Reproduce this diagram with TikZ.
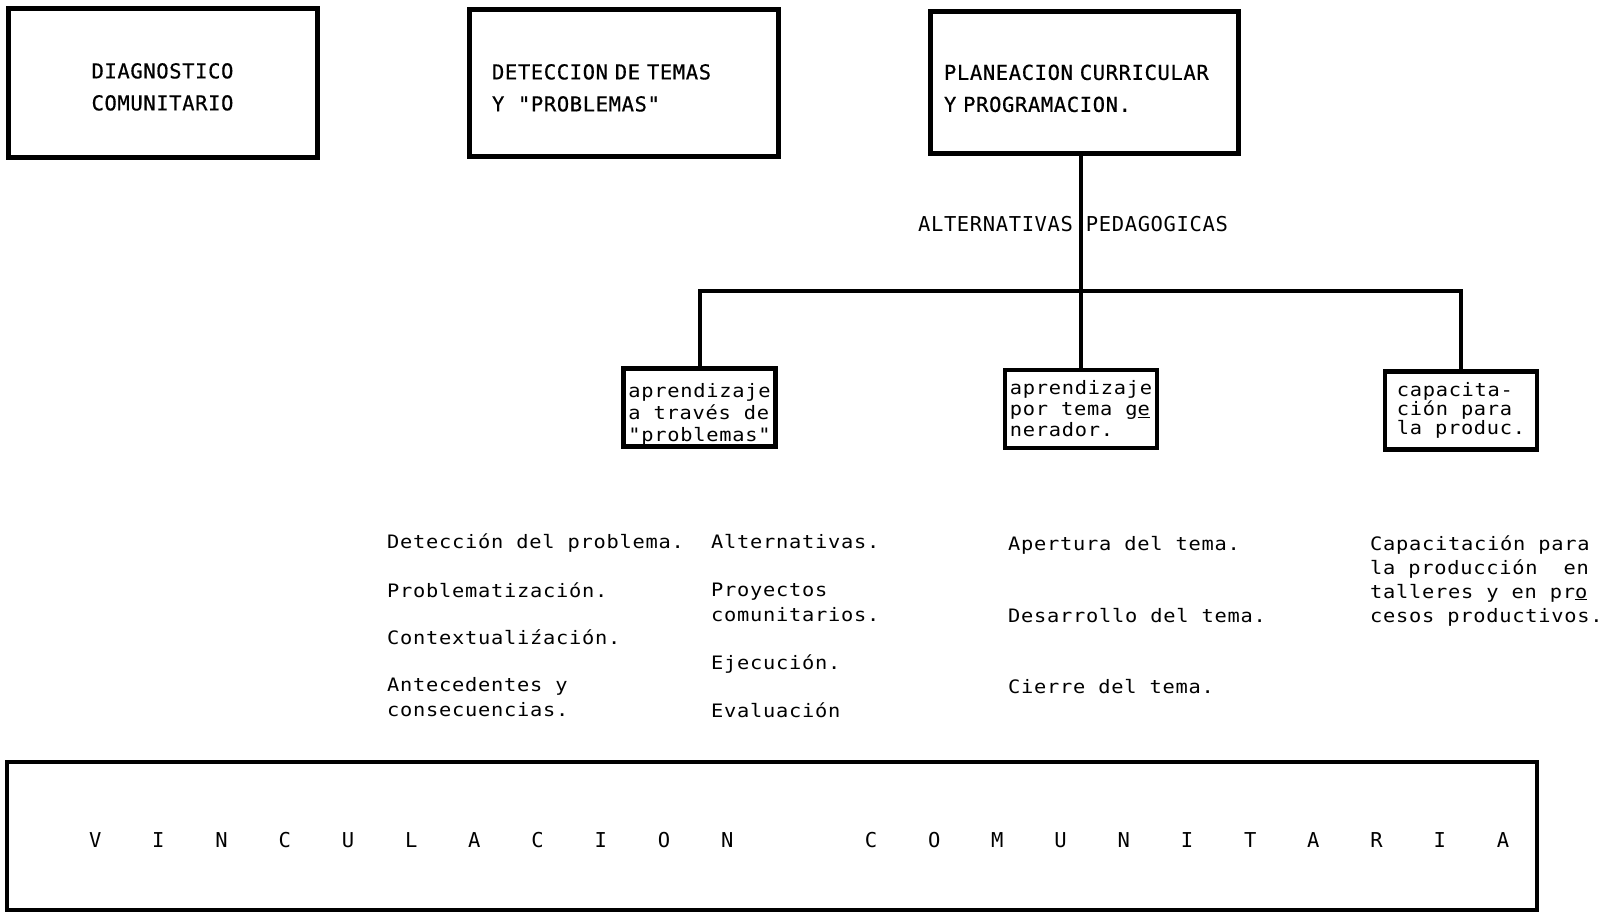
\documentclass[tikz,border=0pt]{standalone}
\usepackage{fontspec}
\setmainfont{DejaVu Sans Mono}
\newfontfamily\capsfont[LetterSpace=3]{DejaVu Sans Mono}
\newfontfamily\boxfont[LetterSpace=3, FakeBold=0.6, WordSpace=1.4]{DejaVu Sans Mono}
\newfontfamily\typefont[LetterSpace=4, FakeStretch=1.1]{DejaVu Sans Mono}
\usetikzlibrary{positioning}
\tikzstyle{stage}		=[rectangle, draw=black, line width=5pt, inner sep=0pt, align=left, font=\boxfont\fontsize{20.5}{32}\selectfont]
\tikzstyle{branch}		=[rectangle, draw=black, line width=4.5pt, inner xsep=3pt, inner ysep=1pt, align=left, minimum width=152pt, minimum height=78pt, font=\typefont\fontsize{18.5}{22}\selectfont]
\tikzstyle{entry}		=[anchor=base west, inner sep=0pt, align=left, font=\typefont\fontsize{18.5}{25}\selectfont]
\tikzstyle{heading}		=[inner sep=0pt, font=\capsfont\fontsize{20.5}{24}\selectfont]
\tikzstyle{band}		=[rectangle, draw=black, line width=4pt, minimum width=1530pt, minimum height=148pt]
\tikzstyle{link}		=[draw=black, line width=4pt]
\newcommand{\spreadword}[1]{\foreach \ch in {#1}{\makebox[63.2pt]{\ch}}}
\newcommand{\topgap}[1]{\rule{0pt}{#1}}

\begin{document}
\begin{tikzpicture}[x=1pt, y=-1pt]

	\path[use as bounding box, fill=white] (0,0) rectangle (1614,911);

	\node (Diagnostico)		[stage, align=center, minimum width=309pt, minimum height=149pt]		at (162.5, 82.5)		{	\topgap{24pt}DIAGNOSTICO\\COMUNITARIO					};
	\node (Deteccion)		[stage, text width=263pt, minimum width=309pt, minimum height=147pt]	at (623.5, 82.5)		{	\topgap{26pt}DETECCION DE TEMAS\\Y~~"PROBLEMAS"		};
	\node (Planeacion)		[stage, text width=280pt, minimum width=308pt, minimum height=142pt]	at (1084, 82)			{	\topgap{28pt}PLANEACION CURRICULAR\\Y PROGRAMACION.	};

	\node (Pedagogicas)		[heading]																at (1073, 224)			{	ALTERNATIVAS PEDAGOGICAS					};
	\coordinate (Bus)																				at (1081, 291);

	\node (Problemas)		[branch]																at (699.5, 407.5)		{	\topgap{27pt}aprendizaje\\a través de\\"problemas"	};
	\node (Generador)		[branch, font=\typefont\fontsize{18.5}{21}\selectfont]				at (1081, 409)			{	aprendizaje\\por tema g\underline{e}\\nerador.	};
	\node (Capacitacion)	[branch, font=\typefont\fontsize{18.5}{15.5}\selectfont]				at (1461, 410.5)		{	capacita-\\ción para\\la produc.			};

	\draw[link] (Generador.north) -- (Generador.north |- Planeacion.south);
	\draw[link] (Problemas.north) |- (Bus) -| (Capacitacion.north);

	\node (DetProblema)		[entry]		at (387, 548)		{	Detección del problema.						};
	\node (Problematiza)	[entry]		at (387, 597)		{	Problematización.							};
	\node (Contexto)		[entry]		at (387, 644)		{	Contextualiźación.							};
	\node (Antecedentes)	[entry]		at (387, 716)		{	Antecedentes y\\consecuencias.				};

	\node (Alternativas)	[entry]		at (711, 548)		{	Alternativas.								};
	\node (Proyectos)		[entry]		at (711, 621)		{	Proyectos\\comunitarios.					};
	\node (Ejecucion)		[entry]		at (711, 669)		{	Ejecución.									};
	\node (Evaluacion)		[entry]		at (711, 717)		{	Evaluación									};

	\node (Apertura)		[entry]		at (1008, 550)		{	Apertura del tema.							};
	\node (Desarrollo)		[entry]		at (1008, 622)		{	Desarrollo del tema.						};
	\node (Cierre)			[entry]		at (1008, 693)		{	Cierre del tema.							};

	\node (Produccion)		[entry, font=\typefont\fontsize{18.5}{24}\selectfont]	at (1370, 622)
	{
		Capacitación para\\
		la producción~~en\\
		talleres y en pr\underline{o}\\
		cesos productivos.
	};

	\node (Vinculacion)		[band]		at (772, 836)		{};
	\node (VincText)		[heading, anchor=base west]		at (63.4, 847)
	{
		\spreadword{V,I,N,C,U,L,A,C,I,O,N}\hspace{80.6pt}\spreadword{C,O,M,U,N,I,T,A,R,I,A}
	};

\end{tikzpicture}
\end{document}
